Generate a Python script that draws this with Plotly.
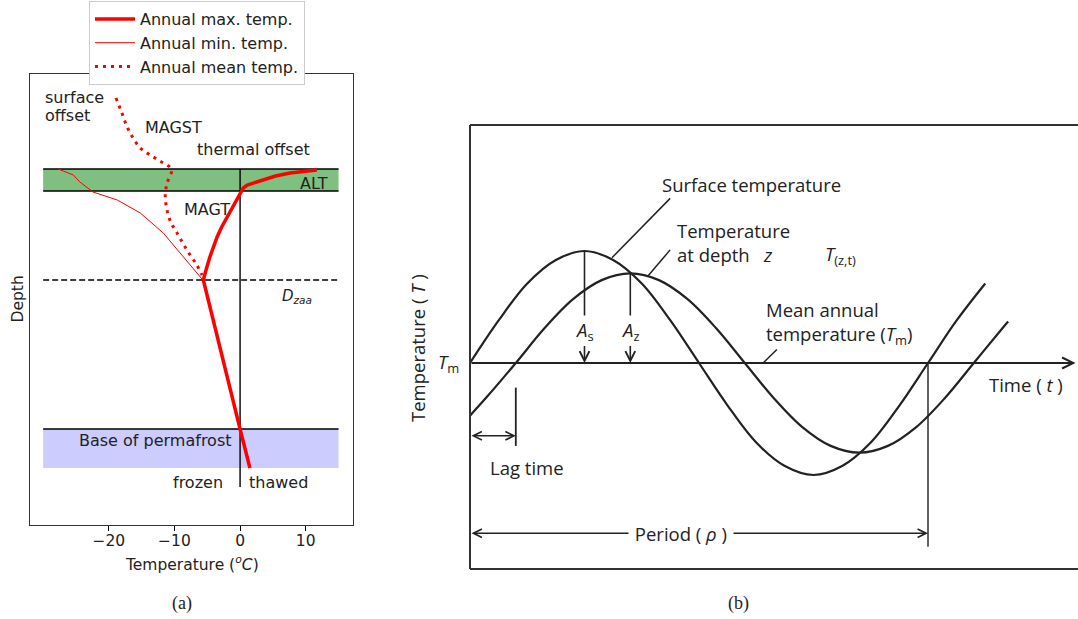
import plotly.graph_objects as go

W, H = 1078, 619

# ---------------- Panel (a) data ----------------
max_temp = [11.7, 9.5, 7.6, 5.4, 3.5, 2.0, 1.1, 0.5, 0.15, -0.5, -1.2, -2.0, -2.8, -3.5,
            -4.1, -4.6, -5.1, -5.6, 0.0, 1.5]
max_depth = [9.6, 9.75, 9.9, 10.2, 10.6, 10.9, 11.1, 11.4, 11.8, 12.6, 13.4, 14.3, 15.3, 16.3,
             17.3, 18.3, 19.4, 20.6, 35.5, 39.4]

min_temp = [-27.7, -25.4, -24.4, -22.4, -18.7, -15.2, -11.7, -9.1, -7.2, -5.8]
min_depth = [9.5, 10.1, 10.8, 11.8, 12.6, 13.9, 15.9, 17.9, 19.4, 20.5]

mean_temp = [-18.9, -18.0, -17.2, -16.3, -15.2, -13.7, -12.2, -10.7, -10.4, -11.1,
             -11.4, -10.7, -9.6, -8.1, -6.6, -5.8]
mean_depth = [2.4, 3.9, 5.3, 6.4, 7.4, 8.1, 8.7, 9.3, 9.6, 10.9,
              12.3, 14.6, 15.9, 17.6, 19.1, 20.1]

band_x = [-30, 15]
alt_top, alt_bottom = 9.5, 11.7
d_zaa = 20.6
pf_base, pf_band_bottom = 35.5, 39.4
zero_line_bottom = 41.3
x_ticks = [-20, -10, 0, 10]

# ---------------- Panel (b) data ----------------
surf_t = [0, 0.0625, 0.125, 0.1875, 0.25, 0.3125, 0.375, 0.4375, 0.5, 0.5625, 0.625,
          0.6875, 0.75, 0.8125, 0.875, 0.9375, 1.0, 1.0625, 1.125]
surf_T = [0, 0.38, 0.71, 0.92, 1.0, 0.92, 0.71, 0.38, 0, -0.38, -0.71,
          -0.92, -1.0, -0.92, -0.71, -0.38, 0, 0.38, 0.71]
depth_t = [0, 0.0375, 0.1, 0.1625, 0.225, 0.2875, 0.35, 0.4125, 0.475, 0.5375, 0.6,
           0.6625, 0.725, 0.7875, 0.85, 0.9125, 0.975, 1.0375, 1.1, 1.1625, 1.175]
depth_T = [-0.47, -0.30, 0, 0.31, 0.57, 0.74, 0.8, 0.74, 0.57, 0.31, 0,
           -0.31, -0.57, -0.74, -0.8, -0.74, -0.57, -0.31, 0, 0.31, 0.37]
A_s, A_z = 1.0, 0.8
t_peak_s, t_peak_z = 0.25, 0.35
lag = 0.1
period = 1.0

RED = "#ff0000"
INK = "#222222"
FA = "DejaVu Sans"
FB = "Open Sans"
FS = "Liberation Serif"
SB = 18.5

fig = go.Figure()

# panel (a) traces
fig.add_trace(go.Scatter(x=max_temp, y=max_depth, mode="lines", name="Annual max. temp.",
                         line=dict(color=RED, width=3.5), xaxis="x", yaxis="y"))
fig.add_trace(go.Scatter(x=min_temp, y=min_depth, mode="lines", name="Annual min. temp.",
                         line=dict(color=RED, width=1), xaxis="x", yaxis="y"))
fig.add_trace(go.Scatter(x=mean_temp, y=mean_depth, mode="lines", name="Annual mean temp.",
                         line=dict(color=RED, width=3, dash="3px,5px", shape="spline"),
                         xaxis="x", yaxis="y"))

# panel (b) traces
fig.add_trace(go.Scatter(x=surf_t, y=surf_T, mode="lines", showlegend=False,
                         line=dict(color=INK, width=2.2, shape="spline"), xaxis="x2", yaxis="y2"))
fig.add_trace(go.Scatter(x=depth_t, y=depth_T, mode="lines", showlegend=False,
                         line=dict(color=INK, width=2.2, shape="spline"), xaxis="x2", yaxis="y2"))

shapes = []
# green active layer band
shapes.append(dict(type="rect", xref="x", yref="y", x0=band_x[0], x1=band_x[1],
                   y0=alt_top, y1=alt_bottom, fillcolor="rgba(0,128,0,0.5)",
                   line=dict(width=0), layer="below"))
# permafrost base band
shapes.append(dict(type="rect", xref="x", yref="y", x0=band_x[0], x1=band_x[1],
                   y0=pf_base, y1=pf_band_bottom, fillcolor="rgba(0,0,255,0.2)",
                   line=dict(width=0), layer="below"))
for yy in (alt_top, alt_bottom, pf_base):
    shapes.append(dict(type="line", xref="x", yref="y", x0=band_x[0], x1=band_x[1],
                       y0=yy, y1=yy, line=dict(color="black", width=1.6), layer="below"))
shapes.append(dict(type="line", xref="x", yref="y", x0=0, x1=0, y0=alt_top, y1=zero_line_bottom,
                   line=dict(color="black", width=1.4), layer="below"))
shapes.append(dict(type="line", xref="x", yref="y", x0=band_x[0], x1=band_x[1], y0=d_zaa, y1=d_zaa,
                   line=dict(color="black", width=1.4, dash="6px,3px"), layer="below"))

# panel (b) frame
for (x0, y0, x1, y1) in [(0, 1, 1, 1), (0, 0, 0, 1), (0, 0, 1, 0)]:
    shapes.append(dict(type="line", xref="x2 domain", yref="y2 domain", x0=x0, y0=y0, x1=x1, y1=y1,
                       line=dict(color="#333333", width=2)))
# amplitude lines from the peaks down to the labels
shapes.append(dict(type="line", xref="x2", yref="y2", x0=t_peak_s, x1=t_peak_s, y0=A_s, y1=0.3,
                   line=dict(color=INK, width=1.6)))
shapes.append(dict(type="line", xref="x2", yref="y2", x0=t_peak_z, x1=t_peak_z, y0=A_z, y1=0.3,
                   line=dict(color=INK, width=1.6)))
# lag marker and period marker
shapes.append(dict(type="line", xref="x2", yref="y2", x0=lag, x1=lag, y0=-0.22, y1=-0.74,
                   line=dict(color=INK, width=1.8)))
shapes.append(dict(type="line", xref="x2", yref="y2", x0=period, x1=period, y0=0, y1=-1.64,
                   line=dict(color=INK, width=1.4)))
# leader lines
for (x0, y0, x1, y1) in [(0.31, 0.94, 0.437, 1.47), (0.389, 0.78, 0.437, 1.01), (0.64, 0.0, 0.67, 0.12)]:
    shapes.append(dict(type="line", xref="x2", yref="y2", x0=x0, y0=y0, x1=x1, y1=y1,
                       line=dict(color=INK, width=1.5)))

ann = []


def ta(text, x, y, xanchor="left", size=16, font=FA, xref="x", yref="y", color=INK, **kw):
    ann.append(dict(text=text, x=x, y=y, xref=xref, yref=yref, xanchor=xanchor, yanchor="middle",
                    showarrow=False, font=dict(family=font, size=size, color=color), **kw))


# panel (a) labels
ta("surface", -30, 2.3)
ta("offset", -30, 4.1)
ta("MAGST", -14.8, 5.3)
ta("thermal offset", -6.8, 7.5)
ta("ALT", 8.8, 10.9)
ta("MAGT", -8.8, 13.5)
ta("<i>D</i><sub><i>zaa</i></sub>", 6.1, 22.2, size=15)
ta("Base of permafrost", -24.8, 36.6)
ta("frozen", -2.3, 40.8, xanchor="right")
ta("thawed", 1.1, 40.8)
ta("Temperature (<sup><i>o</i></sup><i>C</i>)", (30 + 353) / 2 / W, 1 - 563 / H, xanchor="center",
   size=15.5, xref="paper", yref="paper")
ta("Depth", 17 / W, 1 - 299.5 / H, xanchor="center", size=15.5, xref="paper", yref="paper",
   textangle=-90)
ta("(a)", 182 / W, 1 - 603 / H, xanchor="center", size=18, font=FS, xref="paper", yref="paper")
ta("(b)", 738 / W, 1 - 603 / H, xanchor="center", size=18, font=FS, xref="paper", yref="paper")


def arrow(x, y, ax, ay, head=5, side="end", width=1.6):
    ann.append(dict(text="", x=x, y=y, ax=ax, ay=ay, xref="x2", yref="y2", axref="x2", ayref="y2",
                    showarrow=True, arrowhead=head, startarrowhead=head, arrowside=side,
                    arrowsize=1.2, startarrowsize=1.2, arrowwidth=width, arrowcolor=INK))


# panel (b) arrows
arrow(1.322, 0, 0, 0, width=1.8)
arrow(lag, -0.65, 0, -0.65, side="end+start", width=1.4)
arrow(period, -1.52, 0, -1.52, side="end+start", width=1.4)

# amplitude labels carrying their arrows down to the mean line
for lbl, tp in (("<i>A</i><sub>s</sub>", t_peak_s), ("<i>A</i><sub>z</sub>", t_peak_z)):
    ann.append(dict(text=lbl, x=tp, y=0, ax=tp, ay=0.29, xref="x2", yref="y2",
                    axref="x2", ayref="y2", showarrow=True, arrowhead=5, arrowsize=1.2,
                    arrowwidth=1.6, arrowcolor=INK, bgcolor="white", standoff=0,
                    font=dict(family=FB, size=SB, color=INK)))

# panel (b) labels
tb = dict(font=FB, size=SB, xref="x2", yref="y2")
ta("Surface temperature", 0.415, 1.59, **tb)
ta("Temperature<br>at depth&nbsp;&nbsp;&nbsp;<i>z</i>", 0.448, 1.075, align="left", **tb)
ta("<i>T</i><sub>(z,t)</sub>", 0.771, 0.96, **tb)
ta("Mean annual<br>temperature (<i>T</i><sub>m</sub>)", 0.643, 0.36, align="left", **tb)
ta("Time ( <i>t</i> )", 1.214, -0.196, xanchor="center", **tb)
ta("Lag time", 0.124, -0.93, xanchor="center", **tb)
ta("&nbsp;Period ( <i>ρ</i> )&nbsp;", 0.461, -1.52, xanchor="center", bgcolor="white", **tb)
ta("<i>T</i><sub>m</sub>", 461 / W, 1 - 363 / H, xanchor="right", font=FB, size=SB,
   xref="paper", yref="paper")
ta("Temperature ( <i>T</i> )", 417 / W, 1 - 348 / H, xanchor="center", textangle=-90,
   font=FB, size=SB, xref="paper", yref="paper")

fig.update_layout(
    width=W, height=H,
    margin=dict(l=0, r=0, t=0, b=0),
    paper_bgcolor="white", plot_bgcolor="white",
    shapes=shapes, annotations=ann,
    showlegend=True,
    legend=dict(x=89 / W, y=1 - 1 / H, xanchor="left", yanchor="top",
                bgcolor="white", bordercolor="#cccccc", borderwidth=1,
                font=dict(family=FA, size=16, color=INK), itemwidth=40, tracegroupgap=0),
    xaxis=dict(domain=[30 / W, 353 / W], range=[-32, 17.2], tickvals=x_ticks,
               ticks="outside", ticklen=5, tickwidth=1.2, tickcolor="black",
               ticklabelstandoff=-4,
               showgrid=False, zeroline=False, showline=True, linecolor="#333333",
               linewidth=1.3, mirror=True,
               tickfont=dict(family=FA, size=15.5, color=INK)),
    yaxis=dict(domain=[1 - 525 / H, 1 - 74 / H], range=[45.1, 0], showticklabels=False,
               ticks="", showgrid=False, zeroline=False, showline=True,
               linecolor="#333333", linewidth=1.3, mirror=True),
    xaxis2=dict(domain=[470 / W, 1.0], range=[0, 608 / 458], visible=False,
                anchor="y2"),
    yaxis2=dict(domain=[1 - 569 / H, 1 - 125 / H], range=[-206 / 112, 238 / 112],
                visible=False, anchor="x2"),
)

fig.write_html("out.html")
